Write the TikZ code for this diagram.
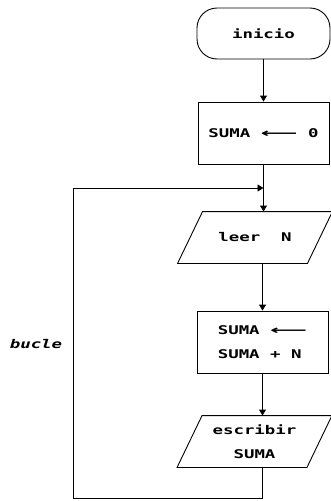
\documentclass[tikz,border=0pt]{standalone}
\usepackage{fontspec}
\usepackage{graphicx}
\newfontfamily\pix[FakeStretch=1.45]{DejaVu Sans Mono}
\newfontfamily\arrfont{DejaVu Sans}
\usetikzlibrary{arrows.meta}
\newcommand{\larrow}{\resizebox{37pt}{\height}{\arrfont\bfseries ⟵}}
\begin{document}
\begin{tikzpicture}[x=1pt,y=-1pt,line width=0.9pt,
  txt/.style={font=\pix\bfseries\fontsize{12}{24}\selectfont},
  term/.style={draw,rectangle,rounded corners=20pt,minimum width=133pt,minimum height=51pt,inner sep=0pt,txt},
  proc/.style={draw,rectangle,minimum width=131pt,minimum height=62pt,inner sep=0pt,txt},
  iobox/.style={rectangle,minimum width=129pt,minimum height=51pt,inner sep=0pt,txt,align=center},
  arr/.style={-{Triangle[length=6pt,width=7pt]}}
]
\useasboundingbox (0,0) rectangle (331,501);
\node[term] (inicio) at (263.5,33.5) {inicio};
\node[proc] (box2) at (263.5,133) {SUMA \larrow{} 0};
\node[iobox] (io1) at (255,237.5) {leer\ \ N};
\draw ([xshift=12.5pt]io1.north west) -- ([xshift=12.5pt]io1.north east)
  -- ([xshift=-12.5pt]io1.south east) -- ([xshift=-12.5pt]io1.south west) -- cycle;
\node[proc,align=left] (box3) at (262.5,342) {SUMA \larrow\\SUMA + N};
\node[iobox] (io2) at (254.5,441.5) {escribir\\SUMA};
\draw ([xshift=12.5pt]io2.north west) -- ([xshift=12.5pt]io2.north east)
  -- ([xshift=-12.5pt]io2.south east) -- ([xshift=-12.5pt]io2.south west) -- cycle;
\node[txt,font=\pix\bfseries\itshape\fontsize{12}{13}\selectfont] (bucle) at (36,344) {bucle};
\coordinate (j) at (263.5,188);
\coordinate (c1) at (262.5,498);
\coordinate (c2) at (73,498);
\coordinate (c3) at (73,188);
\draw[arr] (inicio) -- (box2);
\draw[arr] (box2.south) -- (box2.south |- io1.north);
\draw[arr] (box3.north |- io1.south) -- (box3.north);
\draw[arr] (box3.south) -- (box3.south |- io2.north);
\draw (box3.south |- io2.south) -- (c1) -- (c2) -- (c3);
\draw[arr] (c3) -- (j);
\end{tikzpicture}
\end{document}
